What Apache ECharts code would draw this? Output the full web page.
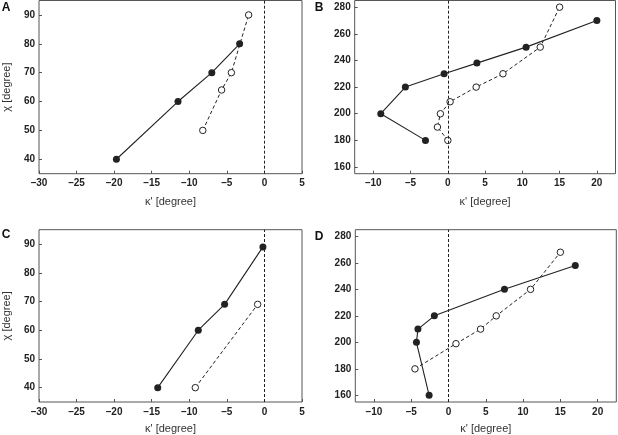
<!DOCTYPE html>
<html>
<head>
<meta charset="utf-8">
<script src="https://cdn.jsdelivr.net/npm/echarts@6/dist/echarts.min.js"></script>
<style>
html,body{margin:0;padding:0;background:#fff;}
#c{width:618px;height:435px;}
</style>
</head>
<body>
<div id="c"></div>
<script>
// ---- data ----
const panelLetters = ['A', 'B', 'C', 'D'];
const xTicksLeft = [-30, -25, -20, -15, -10, -5, 0, 5];
const xTicksRight = [-10, -5, 0, 5, 10, 15, 20];
const yTicksLeft = [40, 50, 60, 70, 80, 90];
const yTicksRight = [160, 180, 200, 220, 240, 260, 280];

const aFilledX = [-19.7, -11.5, -7.0, -3.3];
const aFilledY = [40, 60, 70, 80];
const aOpenX = [-8.2, -5.7, -4.4, -2.1];
const aOpenY = [50, 64, 70, 90];

const bFilledX = [-3.0, -9.0, -5.7, -0.5, 3.9, 10.5, 20.0];
const bFilledY = [180, 200, 220, 230, 238, 250, 270];
const bOpenX = [0.0, -1.4, -1.0, 0.3, 3.8, 7.4, 12.4, 15.0];
const bOpenY = [180, 190, 200, 209, 220, 230, 250, 280];

const cFilledX = [-14.2, -8.8, -5.3, -0.2];
const cFilledY = [40, 60, 69, 89];
const cOpenX = [-9.2, -0.9];
const cOpenY = [40, 69];

const dFilledX = [-2.6, -4.3, -4.1, -1.9, 7.5, 17.0];
const dFilledY = [160, 200, 210, 220, 240, 258];
const dOpenX = [-4.5, 1.0, 4.3, 6.4, 11.0, 15.0];
const dOpenY = [180, 199, 210, 220, 240, 268];

const xName = "κ' [degree]";
const yName = "χ [degree]";

// ---- build ----
const zip = (xs, ys) => xs.map((x, i) => [x, ys[i]]);
const fmt = v => (v < 0 ? '\u2013' + Math.abs(v) : String(v));
const ink = '#222';
const frame = '#555';

const grids = [
  { left: 39, top: 0.5, width: 263, height: 173.2 },
  { left: 354.7, top: 0.5, width: 260.8, height: 173.2 },
  { left: 39, top: 229.7, width: 263, height: 173 },
  { left: 355.3, top: 229.7, width: 261, height: 173 }
].map(g => Object.assign({ show: true, borderColor: frame, borderWidth: 1, backgroundColor: 'transparent' }, g));

const xRanges = [[-30, 5, xTicksLeft], [-12.5, 22.5, xTicksRight], [-30, 5, xTicksLeft], [-12.5, 22.5, xTicksRight]];
const yRanges = [[35, 95, yTicksLeft], [155, 285, yTicksRight], [35, 95, yTicksLeft], [155, 285, yTicksRight]];

const xAxes = xRanges.map((r, i) => ({
  type: 'value', gridIndex: i, min: r[0], max: r[1],
  name: xName, nameLocation: 'middle', nameGap: i < 2 ? 23 : 21,
  nameTextStyle: { fontFamily: 'Liberation Sans, Arial, sans-serif', fontSize: 11, color: '#333' },
  axisLine: { show: false, onZero: false },
  axisTick: { show: true, inside: true, length: 3, customValues: r[2], lineStyle: { color: frame, width: 1 } },
  axisLabel: { customValues: r[2], formatter: fmt, margin: 5, fontFamily: 'Liberation Sans, Arial, sans-serif', fontSize: 10, fontWeight: 'bold', color: ink },
  splitLine: { show: false }
}));

const yAxes = yRanges.map((r, i) => ({
  type: 'value', gridIndex: i, min: r[0], max: r[1],
  name: (i % 2 === 0) ? yName : '', nameLocation: 'middle', nameGap: 27, nameRotate: 90,
  nameTextStyle: { fontFamily: 'Liberation Sans, Arial, sans-serif', fontSize: 11, color: '#333' },
  axisLine: { show: false, onZero: false },
  axisTick: { show: true, inside: true, length: 3, customValues: r[2], lineStyle: { color: frame, width: 1 } },
  axisLabel: { customValues: r[2], formatter: fmt, margin: 4, fontFamily: 'Liberation Sans, Arial, sans-serif', fontSize: 10, fontWeight: 'bold', color: ink },
  splitLine: { show: false }
}));

const panels = [
  [aFilledX, aFilledY, aOpenX, aOpenY],
  [bFilledX, bFilledY, bOpenX, bOpenY],
  [cFilledX, cFilledY, cOpenX, cOpenY],
  [dFilledX, dFilledY, dOpenX, dOpenY]
];

const series = [];
panels.forEach((p, i) => {
  series.push({
    type: 'line', xAxisIndex: i, yAxisIndex: i,
    data: zip(p[2], p[3]),
    symbol: 'circle', symbolSize: 6.5,
    lineStyle: { color: ink, width: 1, type: [3.5, 2.5] },
    itemStyle: { color: '#fff', borderColor: ink, borderWidth: 1 },
    z: 3,
    markLine: {
      silent: true, symbol: ['none', 'none'], label: { show: false },
      lineStyle: { color: ink, width: 1, type: [3, 2] },
      data: [{ xAxis: 0 }]
    }
  });
  series.push({
    type: 'line', xAxisIndex: i, yAxisIndex: i,
    data: zip(p[0], p[1]),
    symbol: 'circle', symbolSize: 7,
    lineStyle: { color: ink, width: 1.1 },
    itemStyle: { color: ink },
    z: 4
  });
});

const letterPos = [[6, 8], [319, 8], [6, 235], [319, 237]];
const graphic = panelLetters.map((t, i) => ({
  type: 'text', x: letterPos[i][0], y: letterPos[i][1],
  style: { text: t, x: 0, y: 0, align: 'center', verticalAlign: 'middle', font: 'bold 12px "Liberation Sans", Arial, sans-serif', fill: '#111' }
}));

const chart = echarts.init(document.getElementById('c'), null, { renderer: 'canvas' });
chart.setOption({
  animation: false,
  backgroundColor: '#fff',
  grid: grids,
  xAxis: xAxes,
  yAxis: yAxes,
  series: series,
  graphic: graphic
});
</script>
</body>
</html>
